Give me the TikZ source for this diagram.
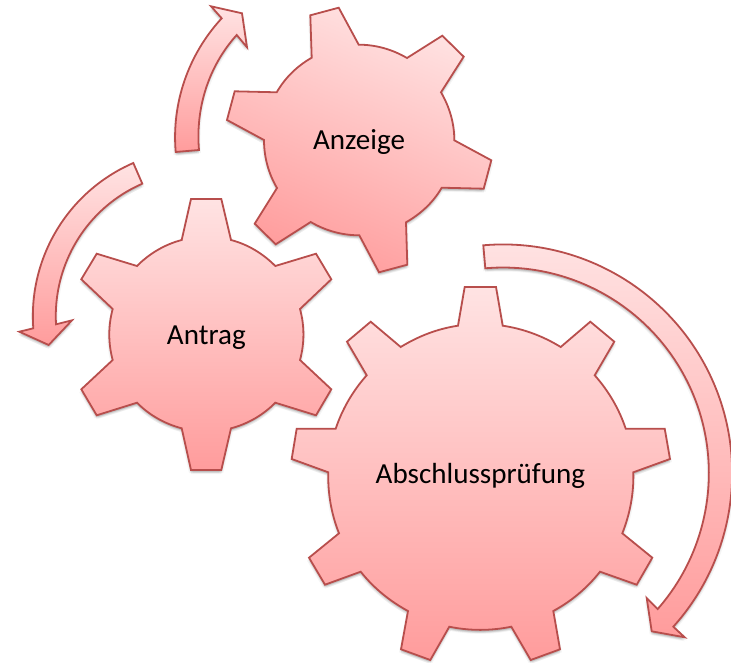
\documentclass[tikz,border=0pt]{standalone}
\usepackage{fontspec}
\setmainfont{Carlito}
\newcommand\seg[7]{.. controls ({#4+(#3)*(#2-#5)},{#5+(#3)*(#4-#1)}) and ({#6-(#3)*(#2-#7)},{#7-(#3)*(#6-#1)}) .. (#6,#7)}
\newcommand\ant{(181.7,240) -- (191,199) -- (221.3,199) -- (231,240) \seg{206.3}{334.5}{.179}{231}{240}{275.3}{266}
 -- (316,253.7) -- (331.3,279.3) -- (300,309) \seg{206.3}{334.5}{.179}{300}{309}{300}{360}
 -- (331.3,389.3) -- (316,415.3) -- (275.3,402.7) \seg{206.3}{334.5}{.179}{275.3}{402.7}{231}{428.3}
 -- (221.3,470) -- (191,470) -- (181.7,428.3) \seg{206.3}{334.5}{.179}{181.7}{428.3}{137}{402.7}
 -- (96.7,415.3) -- (81.3,389.3) -- (112.7,360) \seg{206.3}{334.5}{.179}{112.7}{360}{112.7}{309}
 -- (81.3,279.3) -- (96.7,253.7) -- (137,266) \seg{206.3}{334.5}{.179}{137}{266}{181.7}{240} -- cycle}
\newcommand\anz{(311.7,57.7) -- (310.3,15.3) -- (338.7,7.7) -- (358.7,44.7) \seg{359}{140}{.179}{358.7}{44.7}{407}{58}
 -- (442.3,35.7) -- (463.7,56.7) -- (441,92.3) \seg{359}{140}{.179}{441}{92.3}{454.3}{140.3}
 -- (491.3,160.3) -- (483.7,188.7) -- (441.7,187.7) \seg{359}{140}{.179}{441.7}{187.7}{406}{222.3}
 -- (407.3,264.7) -- (379,272.3) -- (359.3,235.3) \seg{359}{140}{.179}{359.3}{235.3}{310.7}{222}
 -- (275.7,244.3) -- (254.7,223.7) -- (277,188) \seg{359}{140}{.179}{277}{188}{264}{140}
 -- (227,120) -- (234.7,91.3) -- (276.7,92.3) \seg{359}{140}{.179}{276.7}{92.3}{311.7}{57.7} -- cycle}
\newcommand\abs{(458,325.7) -- (464.7,287) -- (496,287) -- (502.7,325.7) \seg{480.4}{477}{.1357}{502.7}{325.7}{560.7}{347}
 -- (590.3,321.7) -- (614.3,341.7) -- (594.7,375.3) \seg{480.4}{477}{.1357}{594.7}{375.3}{625.7}{428.7}
 -- (664.7,428.7) -- (670,459) -- (633.3,472.3) \seg{480.4}{477}{.1357}{633.3}{472.3}{622.3}{533.3}
 -- (652.3,557.7) -- (636.7,584.7) -- (600,571.7) \seg{480.4}{477}{.1357}{600}{571.7}{553.3}{611}
 -- (560,649.3) -- (530.7,660) -- (511.3,626.7) \seg{480.4}{477}{.1357}{511.3}{626.7}{449.3}{626.7}
 -- (430.3,660) -- (401,649.3) -- (408,611) \seg{480.4}{477}{.1357}{408}{611}{360.7}{571.7}
 -- (325,584.7) -- (309,557.7) -- (339,533.3) \seg{480.4}{477}{.1357}{339}{533.3}{328.3}{472.3}
 -- (291.7,459) -- (296.7,428.7) -- (335.7,428.7) \seg{480.4}{477}{.1357}{335.7}{428.7}{366.7}{375.3}
 -- (347,341.7) -- (370.7,321.7) -- (400.7,347) \seg{480.4}{477}{.1357}{400.7}{347}{458}{325.7} -- cycle}
\newcommand\arrA{(175.7,152) \seg{349.9}{137.1}{.281}{175.7}{152}{221.7}{18.3}
 -- (211,6.3) -- (242,13.3) -- (247,47.3) -- (236.7,35) \seg{349.9}{137.1}{-.277}{236.7}{35}{199}{150} -- cycle}
\newcommand\arrB{(133.3,163) \seg{199.8}{316.2}{-.425}{133.3}{163}{33.3}{328.3}
 -- (19.3,331.7) -- (48.7,345) -- (72,320.3) -- (56,324.3) \seg{199.8}{316.2}{.4185}{56}{324.3}{142.3}{183.7} -- cycle}
\newcommand\arrC{(483.3,245.3) \seg{503.1}{473.6}{.41}{483.3}{245.3}{708.2}{371.3} \seg{503.1}{473.6}{.41}{708.2}{371.3}{673.3}{626.7}
 -- (684.7,637.3) -- (651.7,631.3) -- (646.7,598) -- (657.7,609) \seg{503.1}{473.6}{-.408}{657.7}{609}{686.7}{380.4} \seg{503.1}{473.6}{-.408}{686.7}{380.4}{485.3}{268.3} -- cycle}
\definecolor{pinktop}{HTML}{FFE3E3}
\definecolor{pinkbot}{HTML}{FF9C9C}
\definecolor{pinkline}{HTML}{B84E4C}
\tikzset{
  softshadow/.style={fill=black,opacity=.04,draw=none},
  pinkfill/.style={draw=pinkline,line width=1.35pt,line join=miter,top color=pinktop,bottom color=pinkbot},
  caption/.style={font=\fontsize{21.8pt}{26pt}\selectfont,text=black,inner sep=0pt}
}
\newcommand\pinkshape[2]{%
  \foreach \dx/\dy in {0/1,0/2,0/3,0/4,1/2,-1/2,2/3,-2/3}{\fill[softshadow,shift={(\dx,\dy)}] #1;}
  \shadedraw[pinkfill,shading angle=#2] #1;}
\begin{document}
\begin{tikzpicture}[x=0.75pt,y=-0.75pt]
\useasboundingbox (0,0) rectangle (731,663);
\pinkshape{\arrA}{0}
\pinkshape{\arrB}{0}
\pinkshape{\arrC}{0}
\pinkshape{\ant}{0}
\pinkshape{\anz}{-22}
\pinkshape{\abs}{0}
\node[caption] (anzeige) at (359,141.5) {Anzeige};
\node[caption] (antrag) at (206.3,337.5) {Antrag};
\node[caption] (abschluss) at (480.4,476) {Abschlussprüfung};
\end{tikzpicture}
\end{document}
